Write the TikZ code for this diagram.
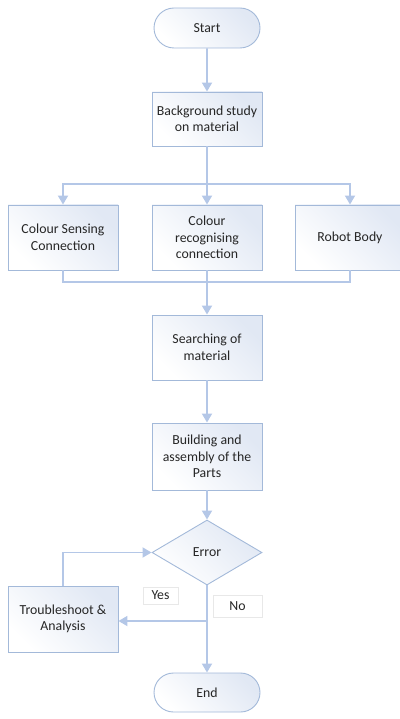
\documentclass[tikz,border=0pt]{standalone}
\usepackage{fontspec}
\setmainfont{Carlito}
\usetikzlibrary{arrows.meta,shapes.geometric,shapes.misc}
\definecolor{bordc}{HTML}{A3B9D9}
\definecolor{linec}{HTML}{B4C7E7}
\definecolor{fillc}{HTML}{E1E8F4}
\definecolor{labc}{HTML}{E8E8E8}
\definecolor{txtc}{HTML}{262626}
\tikzset{
  boxbase/.style={draw=bordc, line width=0.9pt, left color=white, right color=fillc, shading angle=135,
     align=center, inner sep=2pt, text=txtc, font=\fontsize{13.8}{16.5}\selectfont},
  procbox/.style={boxbase, rectangle, minimum width=110pt, minimum height=65pt},
  termbox/.style={boxbase, rounded rectangle, minimum width=110pt, minimum height=40pt},
  decbox/.style={boxbase, diamond, minimum width=110pt, minimum height=65pt, inner sep=0pt},
  lab/.style={draw=labc, line width=0.4pt, fill=white, text=txtc, font=\fontsize{13.8}{16.5}\selectfont, inner sep=0pt},
  conn/.style={draw=linec, line width=1.8pt},
  arr/.style={conn, -{Triangle[width=10pt,length=9pt]}},
}
\begin{document}
\begin{tikzpicture}[x=1pt,y=-1pt]
\useasboundingbox (0,0) rectangle (399,719);
\node[termbox] (start) at (207,28) {Start};
\node[procbox, minimum height=54pt] (bg) at (207,119) {Background study\\on material};
\node[procbox] (csc) at (63,237.5) {Colour Sensing\\Connection};
\node[procbox] (crc) at (207,237.5) {Colour\\recognising\\connection};
\node[procbox] (rb) at (350,237.5) {Robot Body};
\node[procbox] (search) at (207,347.5) {Searching of\\material};
\node[procbox, minimum height=67pt] (build) at (207,456.5) {Building and\\assembly of the\\Parts};
\node[decbox] (err) at (207,552.5) {Error};
\node[procbox, minimum height=66pt] (trouble) at (63,619) {Troubleshoot \&\\Analysis};
\node[termbox, minimum height=39pt] (end) at (207,692.5) {End};
\node[lab, minimum width=35pt, minimum height=17pt] (yes) at (160.5,595.5) {Yes};
\node[lab, minimum width=49pt, minimum height=22pt] (no) at (237.5,606.5) {No};
\coordinate (split) at (207,184);
\coordinate (merge) at (207,282);
\coordinate (branch) at (207,621);
\draw[arr] (start) -- (bg);
\draw[conn] (bg.south) -- (split);
\draw[arr] (split) -| (csc.north);
\draw[arr] (split) -| (rb.north);
\draw[arr] (split) -- (crc.north);
\draw[conn] (csc.south) |- (merge) -| (rb.south);
\draw[arr] (crc.south) -- (search.north);
\draw[arr] (search) -- (build);
\draw[arr] (build) -- (err.north);
\draw[arr] (err.south) -- (end.north);
\draw[arr] (branch) -- (branch -| trouble.east);
\draw[arr] (trouble.north) |- (err.west);
\end{tikzpicture}
\end{document}
